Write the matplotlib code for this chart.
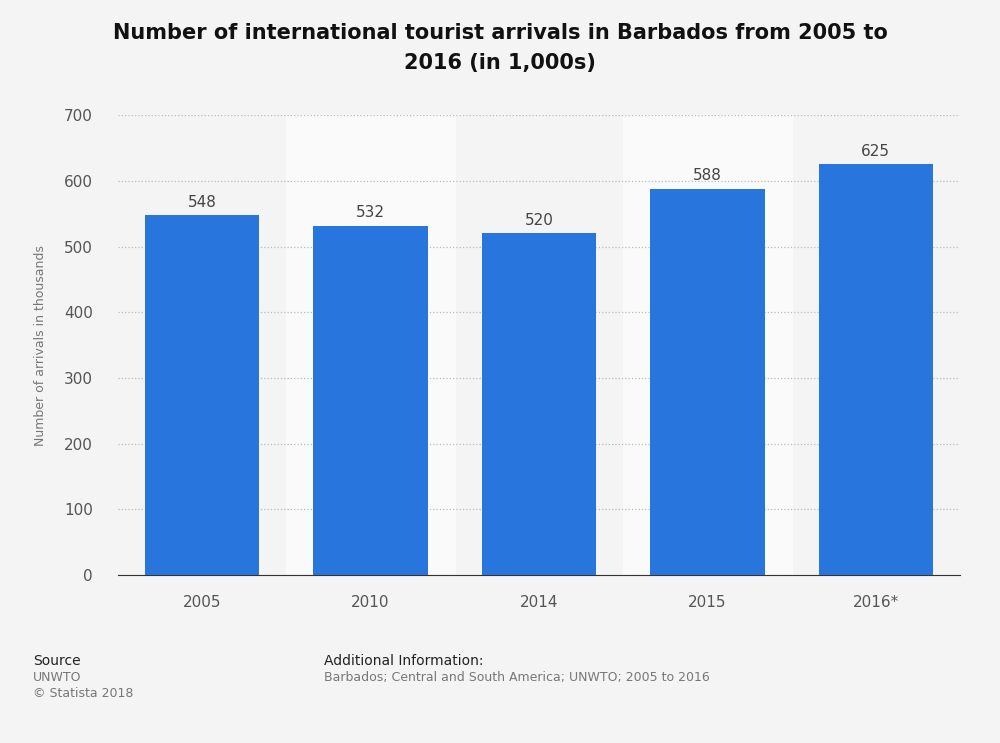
import matplotlib
matplotlib.use("Agg")
import matplotlib.pyplot as plt

categories = ["2005", "2010", "2014", "2015", "2016*"]
values = [548, 532, 520, 588, 625]
yticks = [0, 100, 200, 300, 400, 500, 600, 700]

fig = plt.figure(figsize=(10, 7.43), dpi=100, facecolor="#f4f4f4")
ax = fig.add_axes([0.118, 0.226, 0.842, 0.619], facecolor="#f4f4f4")
x = list(range(len(categories)))
for i in x:
    if i % 2 == 1:
        ax.axvspan(i - 0.5, i + 0.5, color="#fafafa", zorder=0)
ax.bar(x, values, width=0.68, color="#2775dd", zorder=3)
for i, v in zip(x, values):
    ax.text(i, v + 8, str(v), ha="center", va="bottom", fontsize=11, color="#444444", zorder=4)
ax.set_xlim(-0.5, len(categories) - 0.5)
ax.set_ylim(0, 700)
ax.set_yticks(yticks)
ax.set_xticks(x)
ax.set_xticklabels(categories)
ax.tick_params(axis="both", length=0, labelsize=11, colors="#555555")
ax.tick_params(axis="x", pad=14)
ax.tick_params(axis="y", pad=18)
ax.grid(axis="y", linestyle=":", color="#bbbbbb", linewidth=0.9, zorder=1)
for s in ["top", "right", "left"]:
    ax.spines[s].set_visible(False)
ax.spines["bottom"].set_color("#333333")
ax.set_ylabel("Number of arrivals in thousands", fontsize=9, color="#777777", labelpad=12)

fig.text(0.5, 0.935, "Number of international tourist arrivals in Barbados from 2005 to\n2016 (in 1,000s)",
         ha="center", va="center", fontsize=15, fontweight="bold", color="#111111", linespacing=1.6)
fig.text(0.033, 0.105, "Source", fontsize=10, color="#222222")
fig.text(0.033, 0.083, "UNWTO", fontsize=9, color="#777777")
fig.text(0.033, 0.062, "© Statista 2018", fontsize=9, color="#777777")
fig.text(0.324, 0.105, "Additional Information:", fontsize=10, color="#222222")
fig.text(0.324, 0.083, "Barbados; Central and South America; UNWTO; 2005 to 2016", fontsize=9, color="#777777")
fig.savefig("out.png", dpi=100, facecolor=fig.get_facecolor())
